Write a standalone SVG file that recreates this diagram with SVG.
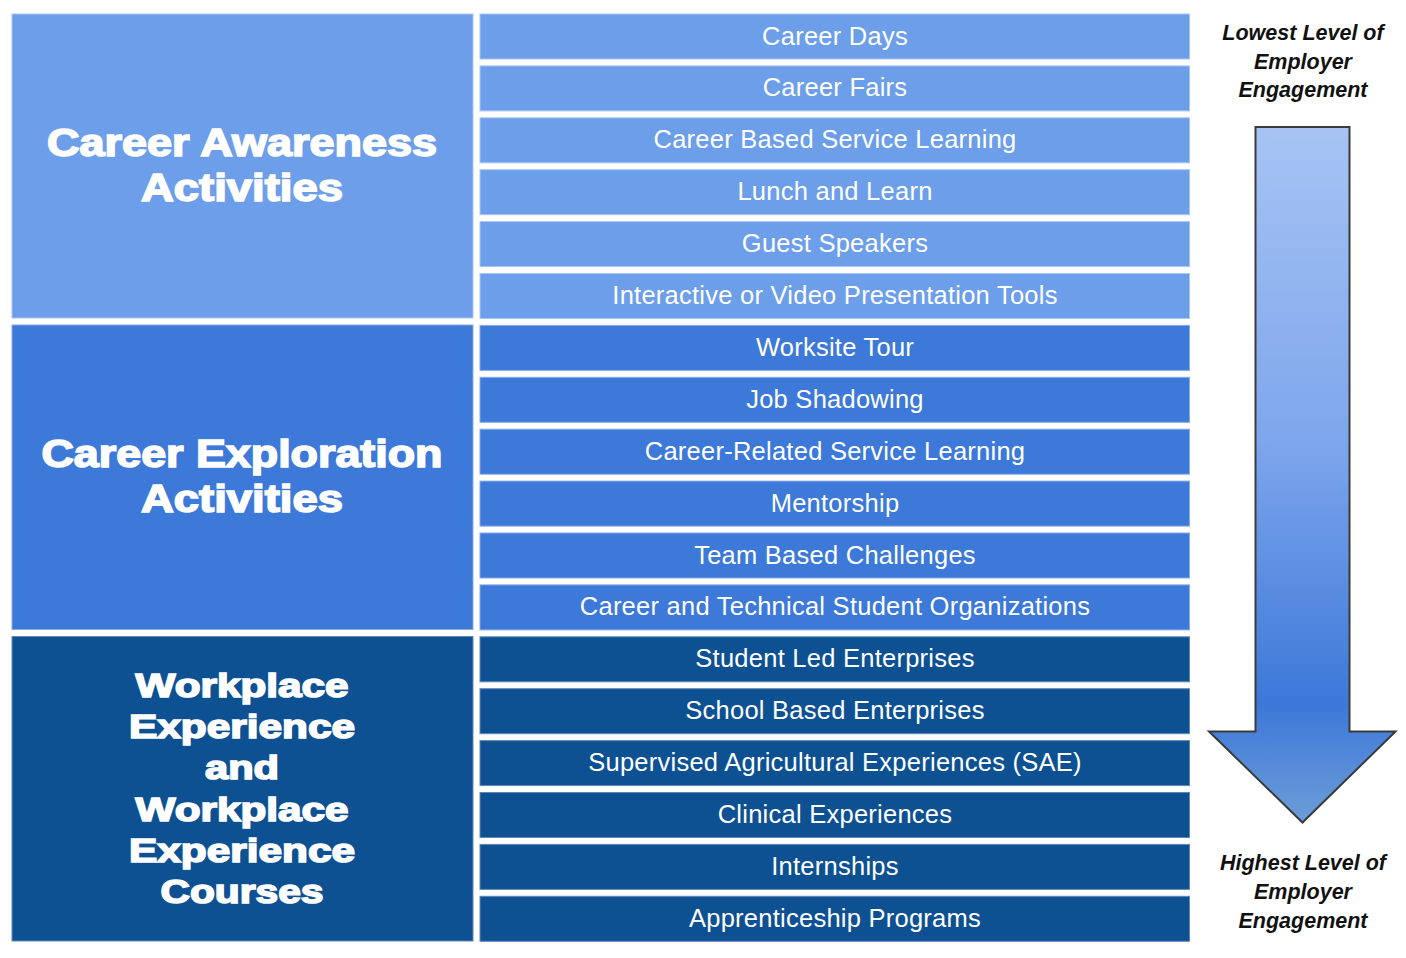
<svg xmlns="http://www.w3.org/2000/svg" width="1406" height="958" viewBox="0 0 1406 958">
<defs>
<linearGradient id="arrowGrad" x1="0" y1="127" x2="0" y2="823" gradientUnits="userSpaceOnUse">
<stop offset="0" stop-color="#A6C3F3"/>
<stop offset="0.45" stop-color="#7EA6EC"/>
<stop offset="0.83" stop-color="#3C78D8"/>
<stop offset="1" stop-color="#6D9DD8"/>
</linearGradient>
<style>
.g1{fill:#6C9EE9;stroke:#A9C5F2;stroke-width:1}
.g2{fill:#3C79D9;stroke:#86AAE6;stroke-width:1}
.g3{fill:#0D5193;stroke:#6388B5;stroke-width:1}
.title{font-family:"Liberation Sans",Arial,sans-serif;font-weight:bold;fill:#fff;stroke:#fff;stroke-width:1.6;text-anchor:middle}
.item{font-family:"Liberation Sans",Arial,sans-serif;font-size:25.5px;letter-spacing:0.25px;fill:#fff;text-anchor:middle}
.side{font-family:"Liberation Sans",Arial,sans-serif;font-size:21.5px;font-weight:bold;font-style:italic;fill:#111;text-anchor:middle}
</style>
</defs>
<rect width="1406" height="958" fill="#fff"/>

<g id="group-awareness">
<rect class="g1" x="12" y="14" width="461" height="304"/>
<text class="title" font-size="38" x="242" y="156" textLength="390" lengthAdjust="spacingAndGlyphs">Career Awareness</text>
<text class="title" font-size="38" x="242" y="201" textLength="202" lengthAdjust="spacingAndGlyphs">Activities</text>
</g>
<g id="group-exploration">
<rect class="g2" x="12" y="325" width="461" height="304.5"/>
<text class="title" font-size="38" x="242" y="467" textLength="401" lengthAdjust="spacingAndGlyphs">Career Exploration</text>
<text class="title" font-size="38" x="242" y="512" textLength="202" lengthAdjust="spacingAndGlyphs">Activities</text>
</g>
<g id="group-workplace">
<rect class="g3" x="12" y="636.5" width="461" height="304.5"/>
<text class="title" font-size="33" x="242" y="697" textLength="213" lengthAdjust="spacingAndGlyphs">Workplace</text>
<text class="title" font-size="33" x="242" y="738" textLength="226" lengthAdjust="spacingAndGlyphs">Experience</text>
<text class="title" font-size="33" x="242" y="779" textLength="74" lengthAdjust="spacingAndGlyphs">and</text>
<text class="title" font-size="33" x="242" y="821" textLength="213" lengthAdjust="spacingAndGlyphs">Workplace</text>
<text class="title" font-size="33" x="242" y="862" textLength="226" lengthAdjust="spacingAndGlyphs">Experience</text>
<text class="title" font-size="33" x="242" y="903" textLength="163" lengthAdjust="spacingAndGlyphs">Courses</text>
</g>

<g id="item-01"><rect class="g1" x="480" y="14" width="709.5" height="45"/><text class="item" x="835" y="44.5">Career Days</text></g>
<g id="item-02"><rect class="g1" x="480" y="65.9" width="709.5" height="45"/><text class="item" x="835" y="96.4">Career Fairs</text></g>
<g id="item-03"><rect class="g1" x="480" y="117.8" width="709.5" height="45"/><text class="item" x="835" y="148.3">Career Based Service Learning</text></g>
<g id="item-04"><rect class="g1" x="480" y="169.7" width="709.5" height="45"/><text class="item" x="835" y="200.2">Lunch and Learn</text></g>
<g id="item-05"><rect class="g1" x="480" y="221.6" width="709.5" height="45"/><text class="item" x="835" y="252.1">Guest Speakers</text></g>
<g id="item-06"><rect class="g1" x="480" y="273.5" width="709.5" height="45"/><text class="item" x="835" y="304">Interactive or Video Presentation Tools</text></g>
<g id="item-07"><rect class="g2" x="480" y="325.4" width="709.5" height="45"/><text class="item" x="835" y="355.9">Worksite Tour</text></g>
<g id="item-08"><rect class="g2" x="480" y="377.3" width="709.5" height="45"/><text class="item" x="835" y="407.8">Job Shadowing</text></g>
<g id="item-09"><rect class="g2" x="480" y="429.2" width="709.5" height="45"/><text class="item" x="835" y="459.7">Career-Related Service Learning</text></g>
<g id="item-10"><rect class="g2" x="480" y="481.1" width="709.5" height="45"/><text class="item" x="835" y="511.6">Mentorship</text></g>
<g id="item-11"><rect class="g2" x="480" y="533" width="709.5" height="45"/><text class="item" x="835" y="563.5">Team Based Challenges</text></g>
<g id="item-12"><rect class="g2" x="480" y="584.9" width="709.5" height="45"/><text class="item" x="835" y="615.4">Career and Technical Student Organizations</text></g>
<g id="item-13"><rect class="g3" x="480" y="636.8" width="709.5" height="45"/><text class="item" x="835" y="667.3">Student Led Enterprises</text></g>
<g id="item-14"><rect class="g3" x="480" y="688.7" width="709.5" height="45"/><text class="item" x="835" y="719.2">School Based Enterprises</text></g>
<g id="item-15"><rect class="g3" x="480" y="740.6" width="709.5" height="45"/><text class="item" x="835" y="771.1">Supervised Agricultural Experiences (SAE)</text></g>
<g id="item-16"><rect class="g3" x="480" y="792.5" width="709.5" height="45"/><text class="item" x="835" y="823">Clinical Experiences</text></g>
<g id="item-17"><rect class="g3" x="480" y="844.4" width="709.5" height="45"/><text class="item" x="835" y="874.9">Internships</text></g>
<g id="item-18"><rect class="g3" x="480" y="896.3" width="709.5" height="45"/><text class="item" x="835" y="926.8">Apprenticeship Programs</text></g>

<g id="engagement-arrow">
<path d="M1255.5 127 L1349.5 127 L1349.5 731.5 L1395.5 731.5 L1302.5 822.5 L1209 731.5 L1255.5 731.5 Z" fill="url(#arrowGrad)" stroke="#3a3a3a" stroke-width="2" stroke-linejoin="miter"/>
</g>
<g id="label-lowest">
<text class="side" x="1303" y="40">Lowest Level of</text>
<text class="side" x="1303" y="68.5">Employer</text>
<text class="side" x="1303" y="97">Engagement</text>
</g>
<g id="label-highest">
<text class="side" x="1303" y="870">Highest Level of</text>
<text class="side" x="1303" y="899">Employer</text>
<text class="side" x="1303" y="928">Engagement</text>
</g>
</svg>
